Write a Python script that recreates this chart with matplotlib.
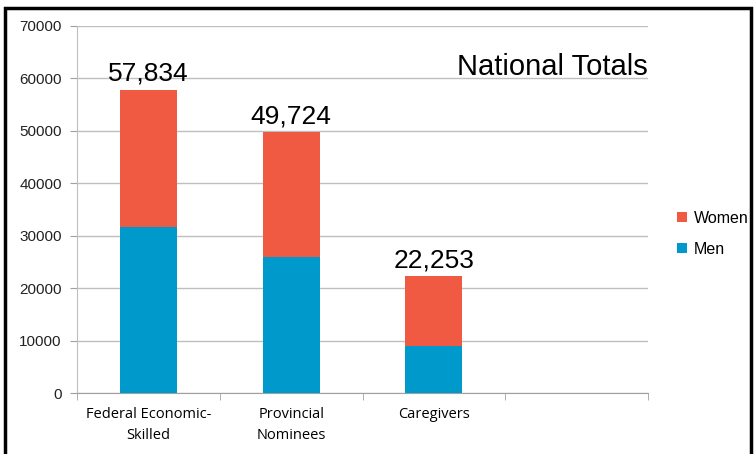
import matplotlib
matplotlib.use("Agg")
from matplotlib import pyplot as plt
from matplotlib.patches import Rectangle
import numpy as np

categories = ['Federal Economic-\nSkilled', 'Provincial\nNominees', 'Caregivers', '']
totals = [57834, 49724, 22253]
men = [31700, 26000, 9000]
women = [t - m for t, m in zip(totals, men)]
total_labels = ['57,834', '49,724', '22,253']

blue = '#0099CC'
red = '#F05A42'

fig = plt.figure(figsize=(7.56, 4.54), dpi=100)
ax = fig.add_axes([0.102, 0.134, 0.755, 0.809])

x = np.arange(len(totals))
ax.bar(x, men, width=0.4, color=blue, label='Men', zorder=3)
ax.bar(x, women, width=0.4, bottom=men, color=red, label='Women', zorder=3)

for xi, t, lab in zip(x, totals, total_labels):
    ax.annotate(lab, (xi, t), xytext=(0, 9), textcoords='offset pixels',
                ha='center', va='baseline', fontsize=19, family='Liberation Sans')

ax.text(1.0, 0.866, 'National Totals', transform=ax.transAxes, ha='right',
        va='baseline', fontsize=21, family='Liberation Sans')

ax.set_xlim(-0.5, 3.5)
ax.set_ylim(0, 70000)
ax.set_yticks(np.arange(0, 70001, 10000))
ax.set_xticks(np.arange(4))
ax.set_xticklabels(categories, family='Open Sans', fontsize=10.5, linespacing=1.55)
ax.set_xticks(np.arange(-0.5, 4, 1), minor=True)
ax.tick_params(axis='x', which='major', length=0, pad=10)
ax.tick_params(axis='x', which='minor', length=5, color='#A0A0A0')
ax.tick_params(axis='y', length=5, color='#A0A0A0', labelsize=11, pad=6)
for lab in ax.get_yticklabels():
    lab.set_family('Liberation Sans')
    lab.set_color('#222222')

ax.yaxis.grid(True, color='#BFBFBF', linewidth=1, zorder=0)
ax.set_axisbelow(True)
for s in ['top', 'right']:
    ax.spines[s].set_visible(False)
ax.spines['left'].set_color('#BFBFBF')
ax.spines['bottom'].set_color('#A0A0A0')

handles, labels = ax.get_legend_handles_labels()
fig.legend(handles[::-1], labels[::-1], loc='center left', bbox_to_anchor=(0.877, 0.485),
           frameon=False, prop={'family': 'Liberation Sans', 'size': 11.5},
           handlelength=0.6, handleheight=0.6, handletextpad=0.45, labelspacing=1.0)

fig.patches.append(Rectangle((0.006, -0.05), 0.988, 1.032, transform=fig.transFigure,
                             fill=False, edgecolor='black', linewidth=2.5))

fig.savefig('out.png', dpi=100)
